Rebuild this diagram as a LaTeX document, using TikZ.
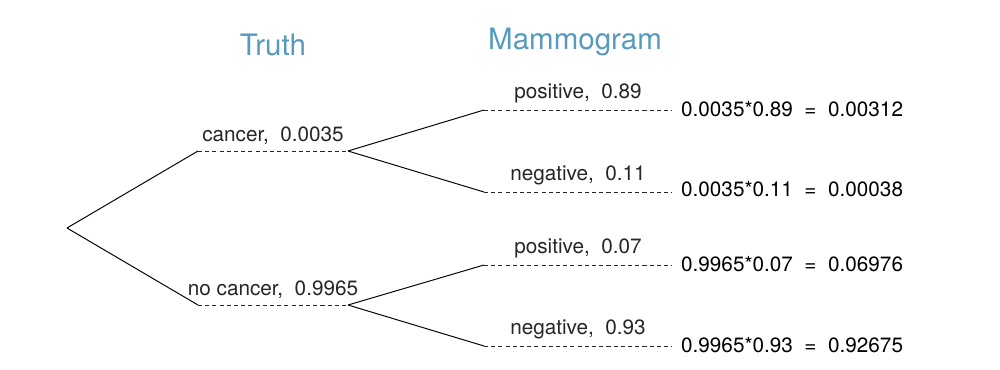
\documentclass[tikz,border=0pt]{standalone}
\usepackage{fontspec}
\setmainfont{TeX Gyre Heros}
\usetikzlibrary{positioning}
\definecolor{oiblue}{HTML}{569BBD}
\tikzset{
  branch/.style={black,line width=0.55pt},
  leaf/.style={black!85,line width=0.55pt,dash pattern=on 2.3pt off 1.8pt},
  lbl/.style={font=\fontsize{11.8}{13}\selectfont,inner sep=3pt},
  heading/.style={oiblue,font=\fontsize{16.8}{19}\selectfont}
}

\begin{document}
\begin{tikzpicture}[x=0.02cm,y=-0.02cm]
    \useasboundingbox (0,0) rectangle (1000,369);
    \node[heading] (truth) at (273,45) {Truth};
    \node[heading] (mammo) at (575,42) {Mammogram};

    % tree points
    \coordinate (root) at (67,228);
    \coordinate (c0) at (198,151);
    \coordinate (c1) at (348,151);
    \coordinate (n0) at (198,305);
    \coordinate (n1) at (348,305);
    \coordinate (cp0) at (484,110);
    \coordinate (cp1) at (672,110);
    \coordinate (cn0) at (484,192);
    \coordinate (cn1) at (672,192);
    \coordinate (np0) at (484,265);
    \coordinate (np1) at (672,265);
    \coordinate (nn0) at (484,346);
    \coordinate (nn1) at (672,346);

    % truth
    \draw[branch] (root) -- (c0);
    \draw[branch] (root) -- (n0);
    \draw[leaf] (c0) -- (c1)
      node[lbl,midway,above=0.5pt] (cancer) {cancer,\ \ 0.0035};
    \draw[leaf] (n0) -- (n1)
      node[lbl,midway,above=0.5pt] (nocancer) {no cancer,\ \ 0.9965};

    % mammogram
    \draw[branch] (c1) -- (cp0);
    \draw[branch] (c1) -- (cn0);
    \draw[branch] (n1) -- (np0);
    \draw[branch] (n1) -- (nn0);
    \draw[leaf] (cp0) -- (cp1)
      node[lbl,midway,above=0.5pt] (cpos) {positive,\ \ 0.89};
    \draw[leaf] (cn0) -- (cn1)
      node[lbl,midway,above=0.5pt] (cneg) {negative,\ \ 0.11};
    \draw[leaf] (np0) -- (np1)
      node[lbl,midway,above=0.5pt] (npos) {positive,\ \ 0.07};
    \draw[leaf] (nn0) -- (nn1)
      node[lbl,midway,above=0.5pt] (nneg) {negative,\ \ 0.93};

    % joint probabilities
    \node[lbl,right=2pt of cp1,yshift=0.5pt] (rcp) {0.0035*0.89\ \ =\ \ 0.00312};
    \node[lbl,right=2pt of cn1,yshift=1.5pt] (rcn) {0.0035*0.11\ \ =\ \ 0.00038};
    \node[lbl,right=2pt of np1,yshift=0.5pt] (rnp) {0.9965*0.07\ \ =\ \ 0.06976};
    \node[lbl,right=2pt of nn1,yshift=0.5pt] (rnn) {0.9965*0.93\ \ =\ \ 0.92675};
\end{tikzpicture}
\end{document}
